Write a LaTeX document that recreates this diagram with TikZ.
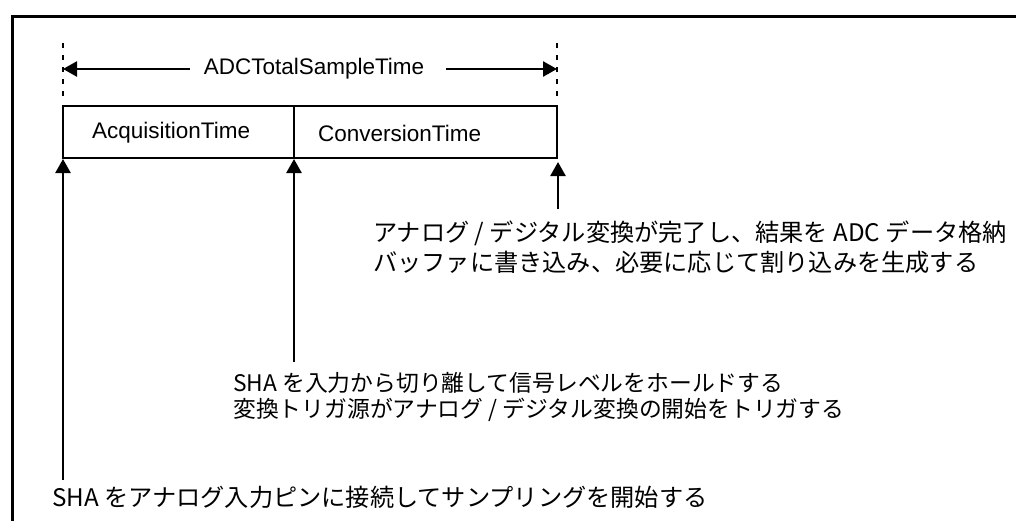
\documentclass[tikz,border=0pt]{standalone}
\usepackage{fontspec}
\setmainfont{Liberation Sans}
\newfontfamily\jpfont{Noto Sans CJK JP}
\usetikzlibrary{arrows.meta}
\tikzset{
  frame/.style={line width=3pt},
  latinlabel/.style={font=\fontsize{22.5}{27}\selectfont, inner sep=0pt},
  jplabel/.style={font=\jpfont\fontsize{24.2}{29}\selectfont, inner sep=0pt, anchor=west},
  jpsmall/.style={jplabel, font=\jpfont\fontsize{22.8}{27}\selectfont},
  pointer/.style={line width=2.5pt, -{Triangle[length=14pt,width=15pt]}},
  limit/.style={line width=2.5pt, dash pattern=on 5pt off 7pt},
}
\begin{document}
\begin{tikzpicture}[x=1pt,y=-1pt]
\useasboundingbox (0,0) rectangle (1016,520);
\clip (0,0) rectangle (1016,520);
\fill[white] (0,0) rectangle (1016,520);

% outer frame, running past the right and lower edges
\draw[frame] (12.5,16) rectangle (1040,560);

% limits of the total sample time
\coordinate (limL1) at (63,43);
\coordinate (limL2) at (63,96);
\coordinate (limR1) at (557,43);
\coordinate (limR2) at (557,96);
\draw[limit] (limL1) -- (limL2);
\draw[limit] (limR1) -- (limR2);

% total sample time span
\node[latinlabel] (total) at (314,69) {ADCTotalSampleTime};
\coordinate (spanL) at (63,69);
\coordinate (spanR) at (557,69);
\draw[pointer] (total.west) ++(-14,0) coordinate (tl) (tl) -- (spanL);
\draw[pointer] (total.east) ++(22,0) coordinate (tr) (tr) -- (spanR);

% acquisition and conversion cells
\coordinate (boxTL) at (63,106);
\coordinate (boxTM) at (294,106);
\coordinate (boxTR) at (557,106);
\coordinate (boxBL) at (63,158);
\coordinate (boxBM) at (294,158);
\coordinate (boxBR) at (557,158);
\draw[line width=2.5pt] (boxTL) rectangle (boxBR);
\draw[line width=2.5pt] (boxTM) -- (boxBM);
\node[latinlabel, anchor=west] (acq) at (92,133) {AcquisitionTime};
\node[latinlabel, anchor=west] (conv) at (318,133) {ConversionTime};

% event markers
\coordinate (startA) at (63,480);
\coordinate (tipA) at (63,159);
\coordinate (startB) at (294,362);
\coordinate (tipB) at (294,159);
\coordinate (startC) at (558,209);
\coordinate (tipC) at (558,162);
\draw[pointer] (startA) -- (tipA);
\draw[pointer] (startB) -- (tipB);
\draw[pointer] (startC) -- (tipC);

% event descriptions
\node[jplabel] (doneA) at (373,233) {アナログ / デジタル変換が完了し、結果を ADC データ格納};
\node[jplabel] (doneB) at (373,262) {バッファに書き込み、必要に応じて割り込みを生成する};
\node[jpsmall] (holdA) at (233,383) {SHA を入力から切り離して信号レベルをホールドする};
\node[jpsmall] (holdB) at (233,410) {変換トリガ源がアナログ / デジタル変換の開始をトリガする};
\node[jplabel] (sample) at (52,497) {SHA をアナログ入力ピンに接続してサンプリングを開始する};
\end{tikzpicture}
\end{document}
